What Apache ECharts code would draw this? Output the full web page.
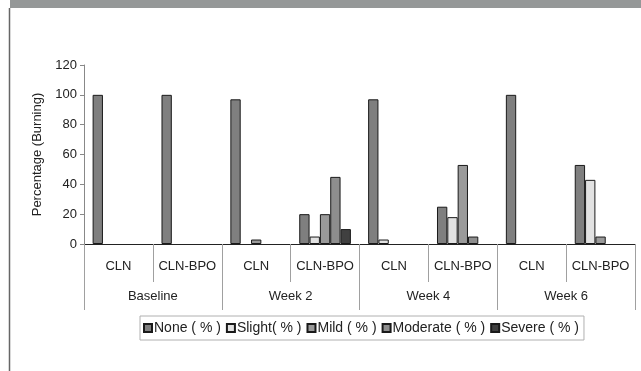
<!DOCTYPE html>
<html>
<head>
<meta charset="utf-8">
<script src="https://cdn.jsdelivr.net/npm/echarts@6/dist/echarts.min.js"></script>
<style>
  html, body { margin: 0; padding: 0; background: #fff; }
  #chart { width: 641px; height: 371px; }
</style>
</head>
<body>
<div id="chart"></div>
<script>
// Treatment groups (inner level) and visits (outer level)
const groups = ['CLN', 'CLN-BPO', 'CLN', 'CLN-BPO', 'CLN', 'CLN-BPO', 'CLN', 'CLN-BPO'];
const visits = ['Baseline', 'Week 2', 'Week 4', 'Week 6'];

// Burning severity, % of subjects per group
const seriesNames = ['None ( % )', 'Slight( % )', 'Mild ( % )', 'Moderate ( % )', 'Severe ( % )'];
const noneVals     = [100, 100, 97, 20, 97, 25, 100, 53];
const slightVals   = [0, 0, 0, 5, 3, 18, 0, 43];
const mildVals     = [0, 0, 3, 20, 0, 53, 0, 5];
const moderateVals = [0, 0, 0, 45, 0, 5, 0, 0];
const severeVals   = [0, 0, 0, 10, 0, 0, 0, 0];

const yTicks = [0, 20, 40, 60, 80, 100, 120];

const seriesData = [noneVals, slightVals, mildVals, moderateVals, severeVals];
const fills = ['#7f7f7f', '#e2e2e2', '#9a9a9a', '#8e8e8e', '#404040'];

const font = 'Liberation Sans, Arial, sans-serif';

const chart = echarts.init(document.getElementById('chart'), null, { renderer: 'canvas' });

chart.setOption({
  backgroundColor: '#ffffff',
  animation: false,
  graphic: [
    { type: 'rect', shape: { x: 10, y: 0, width: 631, height: 8 }, style: { fill: '#959898' } },
    { type: 'line', shape: { x1: 9.5, y1: 8, x2: 9.5, y2: 371 }, style: { stroke: '#666', lineWidth: 1.5 } }
  ],
  grid: { left: 84, right: 6, top: 65, bottom: 127, containLabel: false },
  legend: {
    data: seriesNames,
    left: 140,
    top: 316,
    width: 480,
    padding: [5, 5, 5, 3],
    itemWidth: 8,
    itemHeight: 8,
    itemGap: 5,
    borderColor: '#b0b0b0',
    borderWidth: 1,
    textStyle: { fontFamily: font, fontSize: 14, color: '#222', padding: [0, 0, 0, -3] },
    icon: 'rect'
  },
  xAxis: [
    {
      type: 'category',
      data: groups,
      position: 'bottom',
      axisLine: { lineStyle: { color: '#222', width: 1 } },
      axisTick: { show: true, interval: 0, length: 38, lineStyle: { color: '#a0a0a0' } },
      axisLabel: { interval: 0, margin: 16, fontFamily: font, fontSize: 13, color: '#222' }
    },
    {
      type: 'category',
      data: visits,
      position: 'bottom',
      axisLine: { show: false },
      axisTick: { show: true, interval: 0, length: 66, lineStyle: { color: '#a0a0a0' } },
      axisLabel: { interval: 0, margin: 46, fontFamily: font, fontSize: 13, color: '#222' }
    }
  ],
  yAxis: {
    type: 'value',
    min: 0,
    max: 120,
    interval: 20,
    name: 'Percentage (Burning)',
    nameLocation: 'middle',
    nameGap: 38,
    nameRotate: 90,
    nameTextStyle: { fontFamily: font, fontSize: 13, color: '#222' },
    axisLine: { show: true, lineStyle: { color: '#888', width: 1 } },
    axisTick: { show: true, length: 4, lineStyle: { color: '#888' } },
    splitLine: { show: false },
    axisLabel: {
      fontFamily: font, fontSize: 13, color: '#222', margin: 7,
      formatter: v => (yTicks.indexOf(v) >= 0 ? String(v) : '')
    }
  },
  series: seriesNames.map((name, i) => ({
    name: name,
    type: 'bar',
    xAxisIndex: 0,
    // empty categories get no bar at all
    data: seriesData[i].map(v => (v === 0 ? null : v)),
    barGap: '0%',
    barCategoryGap: '25%',
    itemStyle: { color: fills[i], borderColor: '#1a1a1a', borderWidth: 1 }
  }))
});
</script>
</body>
</html>
